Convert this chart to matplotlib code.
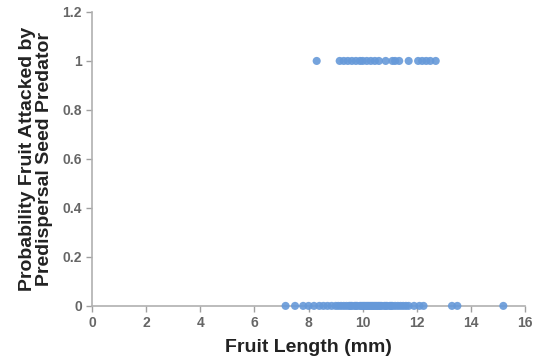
import matplotlib
matplotlib.use("Agg")
import matplotlib.pyplot as plt

plt.rcParams['font.family'] = ['Liberation Sans', 'DejaVu Sans']

# Fruit lengths (mm) of attacked fruits (y = 1)
attacked_lengths = [8.3, 9.15, 9.3, 9.45, 9.6, 9.75, 9.9, 10.0, 10.15, 10.3, 10.45, 10.6,
                    10.85, 11.1, 11.2, 11.35, 11.7, 12.05, 12.2, 12.35, 12.5, 12.7]
# Fruit lengths (mm) of non-attacked fruits (y = 0)
not_attacked_lengths = [7.15, 7.5, 7.8, 8.0, 8.2, 8.4, 8.55, 8.7, 8.85, 9.0, 9.1, 9.2,
                        9.3, 9.4, 9.5, 9.55, 9.6, 9.7, 9.75, 9.8, 9.9, 9.95, 10.0, 10.05,
                        10.1, 10.15, 10.2, 10.25, 10.3, 10.35, 10.4, 10.45, 10.5, 10.55,
                        10.6, 10.65, 10.7, 10.8, 10.85, 10.9, 11.0, 11.05, 11.1, 11.2,
                        11.3, 11.4, 11.5, 11.6, 11.7, 11.9, 12.1, 12.25, 13.3, 13.5, 15.2]

attacked_y = [1] * len(attacked_lengths)
not_attacked_y = [0] * len(not_attacked_lengths)

x_ticks = [0, 2, 4, 6, 8, 10, 12, 14, 16]
y_ticks = [0, 0.2, 0.4, 0.6, 0.8, 1.0, 1.2]
y_tick_labels = ['0', '0.2', '0.4', '0.6', '0.8', '1', '1.2']

fig = plt.figure(figsize=(5.39, 3.62), dpi=100)
ax = fig.add_axes([0.171, 0.155, 0.803, 0.812])

color = '#6699d9'
ax.scatter(not_attacked_lengths, not_attacked_y, s=34, color=color, marker='o',
           zorder=3, clip_on=False, alpha=0.9, edgecolors='none')
ax.scatter(attacked_lengths, attacked_y, s=34, color=color, marker='o',
           zorder=3, clip_on=False, alpha=0.9, edgecolors='none')

ax.set_xlim(0, 16)
ax.set_ylim(0, 1.2)
ax.set_xticks(x_ticks)
ax.set_yticks(y_ticks)
ax.set_yticklabels(y_tick_labels)

for s in ['top', 'right']:
    ax.spines[s].set_visible(False)
for s in ['left', 'bottom']:
    ax.spines[s].set_color('#b0b0b0')
    ax.spines[s].set_linewidth(1.2)

ax.tick_params(axis='both', colors='#a0a0a0', length=4, width=1)
for lab in ax.get_xticklabels() + ax.get_yticklabels():
    lab.set_color('#666666')
    lab.set_fontsize(10)
    lab.set_fontweight('bold')

ax.set_xlabel('Fruit Length (mm)', fontsize=14, fontweight='bold', color='#222222', labelpad=6)
ax.set_ylabel('Probability Fruit Attacked by\nPredispersal Seed Predator', fontsize=14,
              fontweight='bold', color='#222222', labelpad=7, linespacing=1.0)

fig.savefig('out.png', dpi=100)
